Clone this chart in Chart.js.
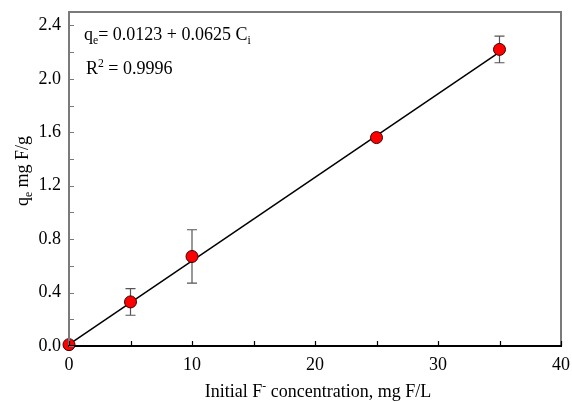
<!DOCTYPE html>
<html>
<head>
<meta charset="utf-8">
<script src="https://cdn.jsdelivr.net/npm/chart.js@4/dist/chart.umd.min.js"></script>
<style>
    body { margin: 0; background: #fff; }
</style>
</head>
<body>
<canvas id="myChart" width="572" height="402"></canvas>
<script>
// dados
const concentracao = [0, 5, 10, 25, 35]
const qe = [0.01, 0.33, 0.67, 1.56, 2.22]
const erro = [0, 0.10, 0.20, 0, 0.10]
const ajusteX = [0, 35]
const ajusteY = [0.012, 2.20]
const xTicks = [0, 5, 10, 15, 20, 25, 30, 35, 40]
const yTicks = [0, 0.2, 0.4, 0.6, 0.8, 1.0, 1.2, 1.4, 1.6, 1.8, 2.0, 2.2, 2.4]

const fonte = '"Liberation Serif", "Times New Roman", serif'

// escreve texto com partes em subscrito / sobrescrito
function textoComposto(ctx, partes, x, y, tamanho) {
    let pos = x
    for (let i = 0; i < partes.length; i++) {
        const p = partes[i]
        let dy = 0
        let t = tamanho
        if (p.tipo === 'sub') { t = tamanho * 0.65; dy = 4 }
        if (p.tipo === 'sup') { t = tamanho * 0.65; dy = -7 }
        ctx.font = t + 'px ' + fonte
        ctx.fillText(p.t, pos, y + dy)
        pos += ctx.measureText(p.t).width
    }
    return pos - x
}

function larguraComposta(ctx, partes, tamanho) {
    let w = 0
    for (let i = 0; i < partes.length; i++) {
        const p = partes[i]
        const t = p.tipo ? tamanho * 0.65 : tamanho
        ctx.font = t + 'px ' + fonte
        w += ctx.measureText(p.t).width
    }
    return w
}

function semPadding(s) {
    s.paddingTop = 0
    s.paddingBottom = 0
    s.paddingLeft = 0
    s.paddingRight = 0
}

const extras = {
    id: 'extras',
    beforeDatasetsDraw(chart) {
        const ctx = chart.ctx
        const x = chart.scales.x
        const y = chart.scales.y
        // barras de erro
        ctx.save()
        ctx.strokeStyle = '#555'
        ctx.lineWidth = 1.2
        for (let i = 0; i < concentracao.length; i++) {
            if (!erro[i]) continue
            const px = x.getPixelForValue(concentracao[i])
            const top = y.getPixelForValue(qe[i] + erro[i])
            const bot = y.getPixelForValue(qe[i] - erro[i])
            ctx.beginPath()
            ctx.moveTo(px, top); ctx.lineTo(px, bot)
            ctx.moveTo(px - 5, top); ctx.lineTo(px + 5, top)
            ctx.moveTo(px - 5, bot); ctx.lineTo(px + 5, bot)
            ctx.stroke()
        }
        ctx.restore()
    },
    afterDraw(chart) {
        const ctx = chart.ctx
        const a = chart.chartArea
        const x = chart.scales.x
        const y = chart.scales.y
        ctx.save()
        // moldura
        ctx.lineWidth = 2
        ctx.strokeStyle = '#7a7a7a'
        ctx.beginPath()
        ctx.moveTo(a.left, a.bottom); ctx.lineTo(a.left, a.top)
        ctx.lineTo(a.right, a.top); ctx.lineTo(a.right, a.bottom)
        ctx.stroke()
        ctx.strokeStyle = '#000'
        ctx.beginPath()
        ctx.moveTo(a.left - 1, a.bottom); ctx.lineTo(a.right + 1, a.bottom)
        ctx.stroke()

        // marcas para dentro
        ctx.lineWidth = 1.2
        ctx.strokeStyle = '#7a7a7a'
        ctx.beginPath()
        for (let i = 0; i < yTicks.length; i++) {
            const py = Math.round(y.getPixelForValue(yTicks[i])) + 0.5
            ctx.moveTo(a.left, py); ctx.lineTo(a.left + 5, py)
        }
        ctx.stroke()
        ctx.strokeStyle = '#000'
        ctx.beginPath()
        for (let i = 0; i < xTicks.length; i++) {
            const px = Math.round(x.getPixelForValue(xTicks[i])) + 0.5
            ctx.moveTo(px, a.bottom); ctx.lineTo(px, a.bottom - 5)
        }
        ctx.stroke()

        // textos
        ctx.fillStyle = '#000'
        ctx.textBaseline = 'alphabetic'
        ctx.textAlign = 'left'
        textoComposto(ctx, [{ t: 'q' }, { t: 'e', tipo: 'sub' }, { t: '= 0.0123 + 0.0625 C' }, { t: 'i', tipo: 'sub' }], 84, 40, 18)
        textoComposto(ctx, [{ t: 'R' }, { t: '2', tipo: 'sup' }, { t: ' = 0.9996' }], 86, 74, 18)

        const tituloX = [{ t: 'Initial F' }, { t: '-', tipo: 'sup' }, { t: ' concentration, mg F/L' }]
        const wx = larguraComposta(ctx, tituloX, 18)
        textoComposto(ctx, tituloX, 318 - wx / 2, 397, 18)

        const tituloY = [{ t: 'q' }, { t: 'e', tipo: 'sub' }, { t: ' mg F/g' }]
        const wy = larguraComposta(ctx, tituloY, 18)
        ctx.translate(28, 171)
        ctx.rotate(-Math.PI / 2)
        textoComposto(ctx, tituloY, -wy / 2, 0, 18)
        ctx.restore()
    }
}

const pontos = concentracao.map((c, i) => ({ x: c, y: qe[i] }))
const ajuste = ajusteX.map((c, i) => ({ x: c, y: ajusteY[i] }))

const cfg = {
    type: 'scatter',
    data: {
        datasets: [{
            data: pontos,
            order: 0,
            pointRadius: 6,
            pointBackgroundColor: '#ff0000',
            pointBorderColor: '#3a0000',
            pointBorderWidth: 1,
            clip: false
        }, {
            data: ajuste,
            order: 1,
            showLine: true,
            borderColor: '#000',
            borderWidth: 1.5,
            pointRadius: 0,
            clip: false
        }]
    },
    plugins: [extras],
    options: {
        responsive: false,
        animation: false,
        events: [],
        layout: {
            padding: { top: 12, right: 11, left: 0, bottom: 0 }
        },
        scales: {
            x: {
                type: 'linear',
                min: 0,
                max: 40,
                afterFit: (s) => { s.height = 56; semPadding(s) },
                afterBuildTicks: (s) => { s.ticks = xTicks.map(v => ({ value: v })) },
                ticks: {
                    color: '#000',
                    padding: 0,
                    maxRotation: 0,
                    font: { family: fonte, size: 18 },
                    callback: (v) => (v % 10 === 0 ? String(v) : '')
                },
                grid: { display: false },
                border: { display: false }
            },
            y: {
                type: 'linear',
                min: 0,
                max: 2.5,
                afterFit: (s) => { s.width = 69; semPadding(s) },
                afterBuildTicks: (s) => { s.ticks = yTicks.map(v => ({ value: v })) },
                ticks: {
                    color: '#000',
                    padding: 0,
                    font: { family: fonte, size: 18 },
                    callback: (v, i) => (i % 2 === 0 ? v.toFixed(1) : '')
                },
                grid: { display: false },
                border: { display: false }
            }
        },
        plugins: {
            legend: { display: false },
            tooltip: { enabled: false }
        }
    }
}

const ctx = document.getElementById('myChart').getContext('2d')
// eslint-disable-next-line no-undef
const myChart = new Chart(ctx, cfg)
</script>
</body>
</html>
